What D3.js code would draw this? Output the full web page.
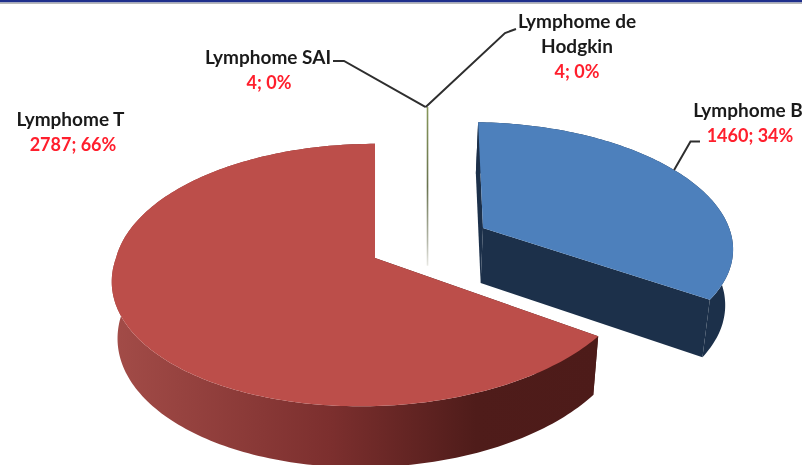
<!DOCTYPE html>
<html>
<head>
<meta charset="utf-8">
<script src="https://cdnjs.cloudflare.com/ajax/libs/d3/7.8.5/d3.min.js"></script>
<style>
  html, body { margin: 0; padding: 0; background: #fff; overflow: hidden; }
  svg { display: block; filter: blur(0.5px); }
  text { font-family: Lato, "Open Sans", sans-serif; font-weight: 700; }
</style>
</head>
<body>
<div id="chart"></div>
<script>
const categories = ['Lymphome B', 'Lymphome T', 'Lymphome SAI', 'Lymphome de Hodgkin'];
const counts = [1460, 2787, 4, 4];
const percents = [34, 66, 0, 0];
const labelLines = [['Lymphome B'], ['Lymphome T'], ['Lymphome SAI'], ['Lymphome de', 'Hodgkin']];

const width = 802;
const height = 465;
const cx = 375;
const cy = 258;
const rx = 259;
const ry = 129;
const persp = 0.13;   // foreshortening of the far side
const depth = 56;
const floorScale = 0.978;
const rotation = 0.0119;

// how far each slice is pulled out of the centre, in radius units
const explode = [[0.43, -0.24], [0, 0], [0.225, -0.38], [0.225, -0.38]];
const rimScale = [0.98, 1, 1, 1];
const startPad = [0.02, 0, 0, 0];
const shear = [0, 13, 0, 0];   // the red near side leans left
const topColors = ['#4d80bc', '#bc4e4a', '#9bbb59', '#8064a2'];
const sideColors = ['#1c304a', 'url(#redSide)', '#6f7f45', '#6f7f45'];
const labelPos = [[748, 117], [70.5, 126], [268, 64], [577, 28]];
const valueShift = [2, 2.5, 1, 0];

const svg = d3.select('#chart').append('svg').attr('width', width).attr('height', height);
const defs = svg.append('defs');

const redGrad = defs.append('linearGradient').attr('id', 'redSide')
  .attr('gradientUnits', 'userSpaceOnUse')
  .attr('x1', 112).attr('x2', 597).attr('y1', 0).attr('y2', 0);
[[0, '#a34c48'], [0.45, '#7c2f2e'], [0.75, '#4f1c1a'], [1, '#4d1b19']].forEach(([o, c]) => {
  redGrad.append('stop').attr('offset', o).attr('stop-color', c);
});

const x = d3.scaleLinear().domain([-1, 1]).range([cx - rx, cx + rx]);
const y = d3.scaleLinear().domain([-1, 1]).range([cy - ry, cy + ry]);

// u, v are on the pie plane (v towards the viewer); low = 1 for the bottom face
function project(i, u, v, low) {
  const s = 1 / (1 - persp * v);
  const k = low ? floorScale : 1;
  const lean = v > 0 ? shear[i] * v * s : 0;
  return [
    cx + (x(u * s) - cx - lean) * k,
    cy + (y(v * s) - cy) * k + (low ? depth * s : 0)
  ];
}

function rimPoint(i, a, low) {
  const [ou, ov] = explode[i];
  return project(i, ou + rimScale[i] * Math.sin(a), ov - rimScale[i] * Math.cos(a), low);
}

function angles(a0, a1) {
  const n = Math.max(2, Math.ceil((a1 - a0) / 0.02));
  return d3.range(n + 1).map((j) => a0 + ((a1 - a0) * j) / n);
}

const line = d3.line().curve(d3.curveLinear);
const pie = d3.pie().sort(null).value((d) => d)
  .startAngle(rotation).endAngle(rotation + Math.PI * 2)(counts);

svg.append('rect').attr('width', width).attr('height', height).attr('fill', '#fff');
svg.append('rect').attr('width', width).attr('height', 2.5).attr('fill', '#1f2f8c');
svg.append('rect').attr('y', 2.5).attr('width', width).attr('height', 1.5).attr('fill', '#b9b9b9');

// big slices: walls first, then the top face
[1, 0].forEach((i) => {
  const d = pie[i];
  const g = svg.append('g').attr('class', 'slice');
  const start = d.startAngle + startPad[i];
  const arc = angles(start, d.endAngle);
  const apexTop = project(i, explode[i][0], explode[i][1], 0);
  const apexLow = project(i, explode[i][0], explode[i][1], 1);

  [start, d.endAngle].forEach((a) => {
    g.append('path')
      .attr('d', line([apexTop, rimPoint(i, a, 0), rimPoint(i, a, 1), apexLow]) + 'Z')
      .attr('fill', i === 0 ? sideColors[0] : '#4d1b19');
  });

  g.append('path')
    .attr('d', line(arc.map((a) => rimPoint(i, a, 0)).concat(arc.slice().reverse().map((a) => rimPoint(i, a, 1)))) + 'Z')
    .attr('fill', sideColors[i]);

  g.append('path')
    .attr('d', line([apexTop].concat(arc.map((a) => rimPoint(i, a, 0)))) + 'Z')
    .attr('fill', topColors[i]);
});

// the two tiny slices only show up as a thin fading sliver
const sliverTop = rimPoint(2, pie[2].endAngle, 0);
const sliverLow = project(2, explode[2][0], explode[2][1], 1);
const sliverGrad = defs.append('linearGradient').attr('id', 'sliver')
  .attr('gradientUnits', 'userSpaceOnUse')
  .attr('x1', 0).attr('x2', 0).attr('y1', sliverTop[1]).attr('y2', sliverLow[1]);
[[0, '#87975a'], [0.5, '#69734f'], [0.85, '#b5b8aa'], [1, '#e8e8e3']].forEach(([o, c]) => {
  sliverGrad.append('stop').attr('offset', o).attr('stop-color', c);
});
svg.append('rect')
  .attr('x', (sliverTop[0] + sliverLow[0]) / 2 - 0.8)
  .attr('y', sliverTop[1])
  .attr('width', 1.6)
  .attr('height', sliverLow[1] - sliverTop[1])
  .attr('fill', 'url(#sliver)');

// leader lines
const blueRim = rimPoint(0, (pie[0].startAngle + pie[0].endAngle) * 0.47, 0);
const leaders = [
  [[333, 61], [344, 61], sliverTop],
  [sliverTop, [505, 33], [516, 29]],
  [blueRim, [690.5, 141.5], [700, 141.5]]
];
svg.selectAll('path.leader').data(leaders).enter().append('path')
  .attr('class', 'leader')
  .attr('d', (d) => line(d))
  .attr('fill', 'none')
  .attr('stroke', '#2e2e2e')
  .attr('stroke-width', 2);

// labels
categories.forEach((c, i) => {
  const t = svg.append('text').attr('text-anchor', 'middle')
    .attr('x', labelPos[i][0]).attr('y', labelPos[i][1]);
  labelLines[i].forEach((l, j) => {
    t.append('tspan').attr('x', labelPos[i][0]).attr('dy', j ? 25 : 0)
      .attr('font-size', 19).attr('fill', '#1a1a1a').text(l);
  });
  t.append('tspan').attr('x', labelPos[i][0] + valueShift[i]).attr('dy', 25)
    .attr('font-size', 18).attr('fill', '#ff1f2d').text(`${counts[i]}; ${percents[i]}%`);
});
</script>
</body>
</html>
